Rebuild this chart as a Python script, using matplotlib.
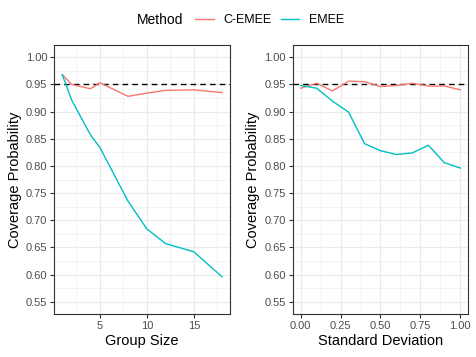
import matplotlib
matplotlib.use("Agg")
from matplotlib import pyplot as plt
from matplotlib.lines import Line2D
from matplotlib.ticker import MultipleLocator, FormatStrFormatter

plt.rcParams['font.family'] = ['Liberation Sans', 'DejaVu Sans']

# Group size panel
group_size = [1, 2, 4, 5, 8, 10, 12, 15, 18]
gs_cemee = [0.968, 0.950, 0.942, 0.953, 0.928, 0.934, 0.939, 0.940, 0.935]
gs_emee = [0.968, 0.921, 0.857, 0.834, 0.735, 0.684, 0.657, 0.642, 0.596]

# Standard deviation panel
std_dev = [0.0, 0.1, 0.2, 0.3, 0.4, 0.5, 0.6, 0.7, 0.8, 0.9, 1.0]
sd_cemee = [0.943, 0.952, 0.938, 0.956, 0.955, 0.946, 0.948, 0.952, 0.947, 0.947, 0.940]
sd_emee = [0.948, 0.943, 0.919, 0.899, 0.841, 0.828, 0.821, 0.824, 0.838, 0.806, 0.796]

nominal = 0.95
methods = ["C-EMEE", "EMEE"]
colors = ["#F8766D", "#00BFC4"]

W, H = 476, 357
fig = plt.figure(figsize=(W / 100, H / 100), dpi=100)

top, bottom = 45, 314
ax1 = fig.add_axes([54.3 / W, (H - bottom) / H, 175.7 / W, (bottom - top) / H])
ax2 = fig.add_axes([292.7 / W, (H - bottom) / H, 175.6 / W, (bottom - top) / H])


def style(ax, x, xlab, major, minor):
    ax.set_ylim(0.5275, 1.0225)
    span = max(x) - min(x)
    ax.set_xlim(min(x) - 0.05 * span, max(x) + 0.05 * span)
    ax.yaxis.set_major_locator(MultipleLocator(0.05))
    ax.yaxis.set_minor_locator(MultipleLocator(0.025))
    ax.xaxis.set_major_locator(MultipleLocator(major))
    ax.xaxis.set_minor_locator(MultipleLocator(minor))
    ax.yaxis.set_major_formatter(FormatStrFormatter('%.2f'))
    ax.grid(which='major', color='#EBEBEB', linewidth=0.8)
    ax.grid(which='minor', color='#EBEBEB', linewidth=0.4)
    ax.set_axisbelow(True)
    for s in ax.spines.values():
        s.set_color('#333333')
        s.set_linewidth(0.8)
    ax.tick_params(which='major', length=3, width=0.8, color='#333333',
                   labelsize=8, labelcolor='#4D4D4D', pad=2)
    ax.tick_params(which='minor', length=0)
    ax.set_xlabel(xlab, fontsize=10.5, labelpad=2)
    ax.set_ylabel("Coverage Probability", fontsize=10.5, labelpad=3)
    ax.axhline(nominal, color='black', linestyle=(0, (4, 3)), linewidth=1.0, zorder=2)


ax1.plot(group_size, gs_cemee, color=colors[0], linewidth=1.0, zorder=3)
ax1.plot(group_size, gs_emee, color=colors[1], linewidth=1.0, zorder=3)
style(ax1, group_size, "Group Size", 5, 2.5)

ax2.plot(std_dev, sd_cemee, color=colors[0], linewidth=1.0, zorder=3)
ax2.plot(std_dev, sd_emee, color=colors[1], linewidth=1.0, zorder=3)
style(ax2, std_dev, "Standard Deviation", 0.25, 0.125)
ax2.xaxis.set_major_formatter(FormatStrFormatter('%.2f'))

handles = [Line2D([], [], color=c, linewidth=1.0) for c in colors]
fig.text(137 / W, 1 - 20 / H, "Method", fontsize=10, va='center', ha='left')
fig.legend(handles, methods, ncol=2, loc='center left',
           bbox_to_anchor=(195 / W, 1 - 20 / H), frameon=False, fontsize=9,
           handlelength=1.5, handletextpad=0.8, columnspacing=0.7,
           borderpad=0, borderaxespad=0)

fig.savefig("out.png", dpi=100)
